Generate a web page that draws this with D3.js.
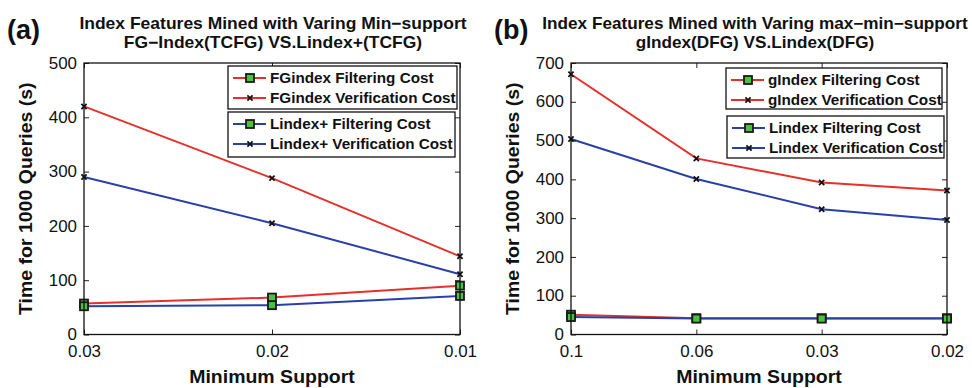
<!DOCTYPE html>
<html>
<head>
<meta charset="utf-8">
<script src="https://cdn.jsdelivr.net/npm/d3@7"></script>
<style>
  html, body { margin: 0; padding: 0; background: #fff; }
  svg { display: block; font-family: "Liberation Sans", Arial, Helvetica, sans-serif; }
</style>
</head>
<body>
<svg id="chart" width="972" height="388"></svg>
<script>
// ---- Panel (a): FG-Index vs Lindex+ over minimum support ----
const catsA = ["0.03", "0.02", "0.01"];
const fgFilter = [57, 68, 90];
const fgVerify = [420, 288, 144];
const lxpFilter = [52, 54, 71];
const lxpVerify = [290, 205, 111];
const yTicksA = [0, 100, 200, 300, 400, 500];
const titleA = ["Index Features Mined with Varing Min\u2212support", "FG\u2212Index(TCFG) VS.Lindex+(TCFG)"];
const legendA1 = ["FGindex Filtering Cost", "FGindex Verification Cost"];
const legendA2 = ["Lindex+ Filtering Cost", "Lindex+ Verification Cost"];

// ---- Panel (b): gIndex vs Lindex over max-min-support ----
const catsB = ["0.1", "0.06", "0.03", "0.02"];
const giFilter = [51, 42, 42, 42];
const giVerify = [671, 454, 392, 371];
const lxFilter = [45, 41, 41, 41];
const lxVerify = [504, 401, 323, 295];
const yTicksB = [0, 100, 200, 300, 400, 500, 600, 700];
const titleB = ["Index Features Mined with Varing max\u2212min\u2212support", "gIndex(DFG) VS.Lindex(DFG)"];
const legendB1 = ["gIndex Filtering Cost", "gIndex Verification Cost"];
const legendB2 = ["Lindex Filtering Cost", "Lindex Verification Cost"];

const xTitle = "Minimum Support";
const yTitle = "Time for 1000 Queries (s)";

const RED = "#e4312b";
const BLUE = "#2a40a8";
const GREEN = "#4dc23f";
const SX = 1.06; // slightly widened Helvetica-like lettering

const svg = d3.select("#chart");

// text drawn at (x, y), widened along its own baseline
function wideText(parent, x, y, str, size, opts = {}) {
  const rot = opts.rotate ? ` rotate(${opts.rotate})` : "";
  return parent.append("text")
    .attr("transform", `translate(${x},${y})${rot} scale(${SX},1)`)
    .attr("text-anchor", opts.anchor || "start")
    .attr("font-size", size)
    .attr("font-weight", opts.bold ? "bold" : "normal")
    .attr("fill", "#111")
    .text(str);
}

function drawSquare(g, x, y) {
  g.append("rect")
    .attr("x", x - 4).attr("y", y - 4)
    .attr("width", 8).attr("height", 8)
    .attr("fill", GREEN)
    .attr("stroke", "#1a1a1a")
    .attr("stroke-width", 1.8);
}

function drawCross(g, x, y) {
  const s = 2.6;
  g.append("path")
    .attr("d", `M${x - s},${y - s}L${x + s},${y + s}M${x - s},${y + s}L${x + s},${y - s}`)
    .attr("stroke", "#111")
    .attr("stroke-width", 1.8)
    .attr("fill", "none");
}

function drawPanel(cfg) {
  const { left, right, top, bottom, cats, yMax, yTicks, series, tag, tagX, title, titleX, titleSize, legends } = cfg;
  const g = svg.append("g");

  const x = d3.scalePoint().domain(cats).range([left, right]).padding(0);
  const y = d3.scaleLinear().domain([0, yMax]).range([bottom, top]);

  // lines and markers
  const line = d3.line().x((d, i) => x(cats[i])).y(d => y(d));
  series.forEach(s => {
    g.append("path")
      .datum(s.values)
      .attr("d", line)
      .attr("fill", "none")
      .attr("stroke", s.color)
      .attr("stroke-width", 2);
  });
  series.forEach(s => {
    s.values.forEach((v, i) => {
      if (s.marker === "square") drawSquare(g, x(cats[i]), y(v));
      else drawCross(g, x(cats[i]), y(v));
    });
  });

  // axes: ticks pointing inward on all four sides
  const axL = g.append("g").attr("transform", `translate(${left},0)`)
    .call(d3.axisLeft(y).tickValues(yTicks).tickSize(-5).tickPadding(7).tickFormat(d3.format("d")));
  const axR = g.append("g").attr("transform", `translate(${right},0)`)
    .call(d3.axisRight(y).tickValues(yTicks).tickSize(-5).tickFormat(""));
  const axB = g.append("g").attr("transform", `translate(0,${bottom})`)
    .call(d3.axisBottom(x).tickSize(-5).tickPadding(11));
  const axT = g.append("g").attr("transform", `translate(0,${top})`)
    .call(d3.axisTop(x).tickSize(-5).tickFormat(""));
  [axL, axR, axB, axT].forEach(a => {
    a.select(".domain").remove();
    a.selectAll("line").attr("stroke", "#222").attr("stroke-width", 1);
    a.selectAll("text").attr("fill", "#111").style("font-size", "16px")
      .style("font-family", "\"Liberation Sans\", Arial, sans-serif")
      .attr("transform", `scale(${SX},1)`);
  });
  axL.selectAll("text").attr("x", -7 / SX);

  g.append("rect")
    .attr("x", left).attr("y", top)
    .attr("width", right - left).attr("height", bottom - top)
    .attr("fill", "none").attr("stroke", "#111").attr("stroke-width", 1.3);

  // legends
  legends.forEach(L => {
    g.append("rect")
      .attr("x", L.x).attr("y", L.y)
      .attr("width", L.w).attr("height", L.h)
      .attr("fill", "#fff").attr("stroke", "#111").attr("stroke-width", 1.3);
    L.items.forEach((it, k) => {
      const cy = L.y + 12 + k * 20;
      g.append("line")
        .attr("x1", L.x + 5).attr("x2", L.x + 38)
        .attr("y1", cy).attr("y2", cy)
        .attr("stroke", it.color).attr("stroke-width", 2);
      if (it.marker === "square") drawSquare(g, L.x + 22, cy);
      else drawCross(g, L.x + 22, cy);
      wideText(g, L.x + 42, cy + 5, it.label, 14.4, { bold: true });
    });
  });

  // titles
  g.append("text").attr("x", tagX).attr("y", 39)
    .attr("font-size", 27).attr("font-weight", "bold").attr("fill", "#111").text(tag);
  title.forEach((t, k) => {
    wideText(g, titleX, 29 + k * 19, t, titleSize, { bold: true, anchor: "middle" });
  });

  wideText(g, (left + right) / 2, 383, xTitle, 18.4, { bold: true, anchor: "middle" });
  wideText(g, left - 52, (top + bottom) / 2, yTitle, 18.4, { bold: true, anchor: "middle", rotate: -90 });
}

drawPanel({
  left: 84, right: 460, top: 63, bottom: 334.5,
  cats: catsA, yMax: 500, yTicks: yTicksA,
  series: [
    { values: fgFilter, color: RED, marker: "square" },
    { values: fgVerify, color: RED, marker: "cross" },
    { values: lxpFilter, color: BLUE, marker: "square" },
    { values: lxpVerify, color: BLUE, marker: "cross" }
  ],
  tag: "(a)", tagX: 7, title: titleA, titleX: 273, titleSize: 16.5,
  legends: [
    { x: 228, y: 66, w: 229, h: 43, items: [
      { label: legendA1[0], color: RED, marker: "square" },
      { label: legendA1[1], color: RED, marker: "cross" } ] },
    { x: 228, y: 112, w: 227, h: 45, items: [
      { label: legendA2[0], color: BLUE, marker: "square" },
      { label: legendA2[1], color: BLUE, marker: "cross" } ] }
  ]
});

drawPanel({
  left: 571, right: 947, top: 63, bottom: 334.5,
  cats: catsB, yMax: 700, yTicks: yTicksB,
  series: [
    { values: giFilter, color: RED, marker: "square" },
    { values: giVerify, color: RED, marker: "cross" },
    { values: lxFilter, color: BLUE, marker: "square" },
    { values: lxVerify, color: BLUE, marker: "cross" }
  ],
  tag: "(b)", tagX: 494, title: titleB, titleX: 755, titleSize: 16.2,
  legends: [
    { x: 726, y: 68, w: 216, h: 41, items: [
      { label: legendB1[0], color: RED, marker: "square" },
      { label: legendB1[1], color: RED, marker: "cross" } ] },
    { x: 727, y: 116, w: 217, h: 42, items: [
      { label: legendB2[0], color: BLUE, marker: "square" },
      { label: legendB2[1], color: BLUE, marker: "cross" } ] }
  ]
});
</script>
</body>
</html>
